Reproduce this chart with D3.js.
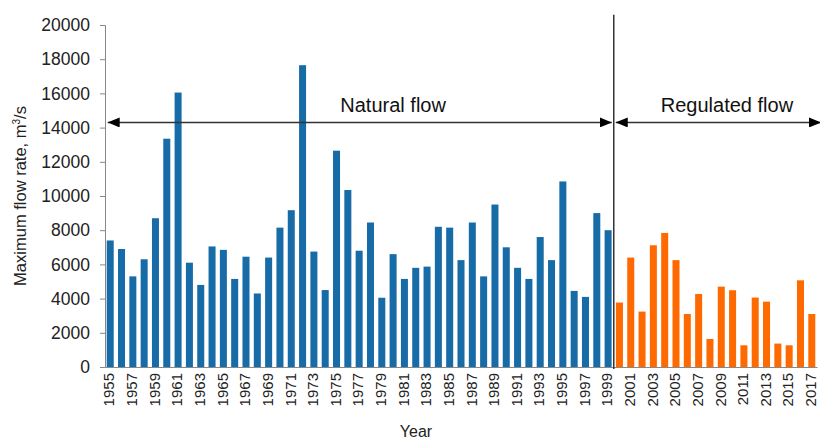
<!DOCTYPE html>
<html>
<head>
<meta charset="utf-8">
<script src="https://cdn.jsdelivr.net/npm/d3@7"></script>
<style>
  body { margin: 0; background: #fff; }
  svg { font-family: "Liberation Sans", Arial, sans-serif; }
</style>
</head>
<body>
<script>
// Data
var years = d3.range(1955, 2018).map(String);
var naturalFlow = [7400, 6900, 5300, 6300, 8700, 13350, 16050, 6100, 4800, 7050,
    6850, 5150, 6450, 4300, 6400, 8150, 9170, 17650, 6750, 4500,
    12650, 10350, 6800, 8450, 4050, 6600, 5150, 5800, 5870, 8200,
    8150, 6250, 8450, 5300, 9500, 7000, 5800, 5150, 7600, 6250,
    10850, 4450, 4100, 9000, 8000];
var regulatedFlow = [3770, 6400, 3240, 7120, 7840, 6250, 3100, 4270, 1640, 4700,
    4490, 1270, 4060, 3820, 1370, 1270, 5070, 3100];
var yTicks = [0, 2000, 4000, 6000, 8000, 10000, 12000, 14000, 16000, 18000, 20000];

var flows = naturalFlow.concat(regulatedFlow);
var data = years.map((y, i) => ({year: y, value: flows[i], regulated: i >= naturalFlow.length}));

// Define SVG area dimensions
var svgWidth = 820;
var svgHeight = 441;
var margin = {top: 25, right: 3, bottom: 74, left: 105};
var chartWidth = svgWidth - margin.left - margin.right;
var chartHeight = svgHeight - margin.top - margin.bottom;

var svg = d3.select("body")
    .append("svg")
    .attr("width", svgWidth)
    .attr("height", svgHeight);

var chartGroup = svg.append("g")
    .attr("transform", `translate(${margin.left}, ${margin.top})`);

var x = d3.scaleBand()
    .domain(years)
    .range([0, chartWidth])
    .paddingInner(0.38)
    .paddingOuter(0.15);

var y = d3.scaleLinear()
    .domain([0, 20000])
    .range([chartHeight, 0]);

// arrow markers
var defs = svg.append("defs");
defs.append("marker")
    .attr("id", "arrowEnd")
    .attr("viewBox", "0 0 12 10")
    .attr("refX", 12).attr("refY", 5)
    .attr("markerWidth", 12).attr("markerHeight", 10)
    .attr("markerUnits", "userSpaceOnUse")
    .attr("orient", "auto-start-reverse")
    .append("path")
    .attr("d", "M0,0 L12,5 L0,10 Z")
    .attr("fill", "#000");

// bars
chartGroup.selectAll(".bar")
    .data(data)
    .enter()
    .append("rect")
    .attr("class", "bar")
    .attr("x", d => x(d.year))
    .attr("y", d => y(d.value))
    .attr("width", x.bandwidth())
    .attr("height", d => chartHeight - y(d.value))
    .attr("fill", d => d.regulated ? "#ff6a00" : "#176ca8");

// y axis
var leftAxis = d3.axisLeft(y).tickValues(yTicks).tickSize(5).tickPadding(10).tickFormat(d3.format("d"));
var yAxisG = chartGroup.append("g").call(leftAxis);
yAxisG.select(".domain").attr("stroke", "#888");
yAxisG.selectAll(".tick line").attr("stroke", "#888");
yAxisG.selectAll("text").attr("font-size", "17.5px").attr("fill", "#222")
    .attr("font-family", "Liberation Sans, Arial, sans-serif");

// x axis, label every other year
var bottomAxis = d3.axisBottom(x)
    .tickValues(years.filter((d, i) => i % 2 === 0))
    .tickSize(0).tickPadding(6);
var xAxisG = chartGroup.append("g")
    .attr("transform", `translate(0, ${chartHeight})`)
    .call(bottomAxis);
xAxisG.select(".domain").attr("stroke", "#888");
xAxisG.selectAll("text")
    .attr("font-size", "15px")
    .attr("fill", "#222")
    .attr("font-family", "Liberation Sans, Arial, sans-serif")
    .attr("text-anchor", "end")
    .attr("dy", "0.35em")
    .attr("transform", "translate(-1, 0) rotate(-90)")
    .attr("x", -6)
    .attr("y", 0);

// divider between natural and regulated flow
var step = x.step();
var splitX = x(years[naturalFlow.length]) - (step - x.bandwidth()) / 2;
chartGroup.append("line")
    .attr("x1", splitX).attr("x2", splitX)
    .attr("y1", y(20600)).attr("y2", chartHeight + 2)
    .attr("stroke", "#333")
    .attr("stroke-width", 1.5);

// arrows
var arrowY = y(14300);
chartGroup.append("line")
    .attr("x1", x(years[0]) + 1).attr("x2", splitX - 2)
    .attr("y1", arrowY).attr("y2", arrowY)
    .attr("stroke", "#333").attr("stroke-width", 1.5)
    .attr("marker-start", "url(#arrowEnd)")
    .attr("marker-end", "url(#arrowEnd)");

chartGroup.append("line")
    .attr("x1", splitX + 2).attr("x2", chartWidth + 4)
    .attr("y1", arrowY).attr("y2", arrowY)
    .attr("stroke", "#333").attr("stroke-width", 1.5)
    .attr("marker-start", "url(#arrowEnd)")
    .attr("marker-end", "url(#arrowEnd)");

chartGroup.append("text")
    .attr("x", x("1980") + x.bandwidth() / 2)
    .attr("y", arrowY - 10)
    .attr("text-anchor", "middle")
    .attr("font-size", "20px")
    .attr("fill", "#111")
    .text("Natural flow");

chartGroup.append("text")
    .attr("x", x("2010") - step / 2 + x.bandwidth() / 2)
    .attr("y", arrowY - 10)
    .attr("text-anchor", "middle")
    .attr("font-size", "20px")
    .attr("fill", "#111")
    .text("Regulated flow");

// axis titles
chartGroup.append("text")
    .attr("transform", "rotate(-90)")
    .attr("x", -chartHeight / 2)
    .attr("y", 26 - margin.left)
    .attr("text-anchor", "middle")
    .attr("font-size", "16.5px")
    .attr("fill", "#222")
    .html("Maximum flow rate, m<tspan font-size='10px' dy='-6'>3</tspan><tspan dy='6'>/s</tspan>");

chartGroup.append("text")
    .attr("x", chartWidth / 2 - 45)
    .attr("y", chartHeight + 70)
    .attr("text-anchor", "middle")
    .attr("font-size", "16px")
    .attr("fill", "#222")
    .text("Year");
</script>
</body>
</html>
